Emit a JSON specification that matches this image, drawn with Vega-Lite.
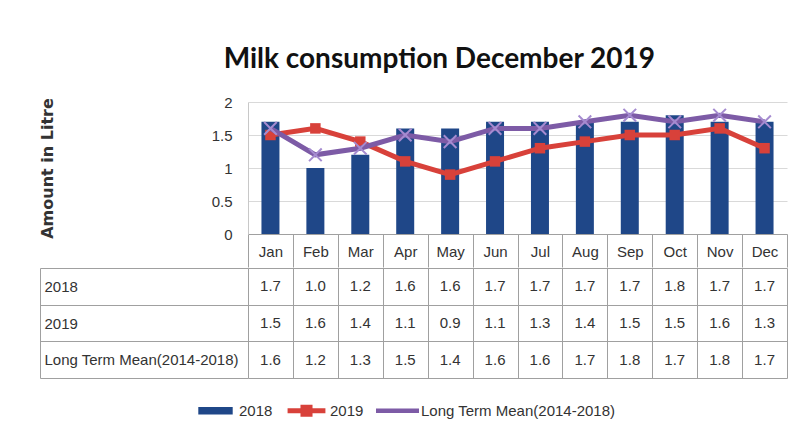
{
  "$schema": "https://vega.github.io/schema/vega-lite/v6.json",
  "background": "white",
  "padding": {"left": 39, "right": 16, "top": 46, "bottom": 2},
  "title": {"text": "Milk consumption December 2019", "font": "Lato", "fontSize": 28, "fontWeight": "bold", "color": "#111111", "anchor": "middle", "dx": 26, "offset": 21},
  "config": {"font": "Liberation Sans", "view": {"stroke": null}},
  "datasets": {
    "milk": [
      {"month": "Jan", "series": "2018", "value": 1.7},
      {"month": "Feb", "series": "2018", "value": 1.0},
      {"month": "Mar", "series": "2018", "value": 1.2},
      {"month": "Apr", "series": "2018", "value": 1.6},
      {"month": "May", "series": "2018", "value": 1.6},
      {"month": "Jun", "series": "2018", "value": 1.7},
      {"month": "Jul", "series": "2018", "value": 1.7},
      {"month": "Aug", "series": "2018", "value": 1.7},
      {"month": "Sep", "series": "2018", "value": 1.7},
      {"month": "Oct", "series": "2018", "value": 1.8},
      {"month": "Nov", "series": "2018", "value": 1.7},
      {"month": "Dec", "series": "2018", "value": 1.7},
      {"month": "Jan", "series": "2019", "value": 1.5},
      {"month": "Feb", "series": "2019", "value": 1.6},
      {"month": "Mar", "series": "2019", "value": 1.4},
      {"month": "Apr", "series": "2019", "value": 1.1},
      {"month": "May", "series": "2019", "value": 0.9},
      {"month": "Jun", "series": "2019", "value": 1.1},
      {"month": "Jul", "series": "2019", "value": 1.3},
      {"month": "Aug", "series": "2019", "value": 1.4},
      {"month": "Sep", "series": "2019", "value": 1.5},
      {"month": "Oct", "series": "2019", "value": 1.5},
      {"month": "Nov", "series": "2019", "value": 1.6},
      {"month": "Dec", "series": "2019", "value": 1.3},
      {"month": "Jan", "series": "Long Term Mean(2014-2018)", "value": 1.6},
      {"month": "Feb", "series": "Long Term Mean(2014-2018)", "value": 1.2},
      {"month": "Mar", "series": "Long Term Mean(2014-2018)", "value": 1.3},
      {"month": "Apr", "series": "Long Term Mean(2014-2018)", "value": 1.5},
      {"month": "May", "series": "Long Term Mean(2014-2018)", "value": 1.4},
      {"month": "Jun", "series": "Long Term Mean(2014-2018)", "value": 1.6},
      {"month": "Jul", "series": "Long Term Mean(2014-2018)", "value": 1.6},
      {"month": "Aug", "series": "Long Term Mean(2014-2018)", "value": 1.7},
      {"month": "Sep", "series": "Long Term Mean(2014-2018)", "value": 1.8},
      {"month": "Oct", "series": "Long Term Mean(2014-2018)", "value": 1.7},
      {"month": "Nov", "series": "Long Term Mean(2014-2018)", "value": 1.8},
      {"month": "Dec", "series": "Long Term Mean(2014-2018)", "value": 1.7}
    ]
  },
  "data": {"name": "milk"},
  "spacing": -12,
  "resolve": {"scale": {"x": "shared"}},
  "vconcat": [
    {
      "width": 539,
      "height": 132,
      "encoding": {
        "x": {"field": "month", "type": "ordinal", "sort": ["Jan","Feb","Mar","Apr","May","Jun","Jul","Aug","Sep","Oct","Nov","Dec"], "scale": {"paddingInner": 0, "paddingOuter": 0},
          "axis": {"title": null, "orient": "bottom", "tickBand": "extent", "tickSize": 33, "tickColor": "#a0a0a0", "domainColor": "#a0a0a0", "labelPadding": -16, "labelBaseline": "middle", "labelAngle": 0, "labelFontSize": 15, "labelColor": "#333333", "grid": false}},
        "y": {"field": "value", "type": "quantitative", "scale": {"domain": [0, 2]},
          "axis": {"title": "Amount in Litre", "titleFont": "DejaVu Sans", "titleFontSize": 16, "titleFontWeight": "bold", "titleColor": "#333333", "titlePadding": 156, "values": [0, 0.5, 1, 1.5, 2], "format": "~g", "ticks": false, "labelPadding": 16, "labelFontSize": 15, "labelColor": "#333333", "domainColor": "#c8c8c8", "gridColor": "#d9d9d9"}}
      },
      "layer": [
        {
          "transform": [{"filter": "datum.series === '2018'"}],
          "mark": {"type": "bar", "size": 18},
          "encoding": {
            "color": {"field": "series", "type": "nominal",
              "scale": {"domain": ["2018", "2019", "Long Term Mean(2014-2018)"], "range": ["#1f4788", "#d8413a", "#7d5ba6"]},
              "legend": {"title": null, "orient": "none", "direction": "horizontal", "legendX": -54, "legendY": 287, "symbolSize": 1849, "labelFontSize": 15, "labelLimit": 0, "labelColor": "#333333", "labelOffset": 2, "columnPadding": 12,
                "encode": {"symbols": {"update": {
                  "shape": {"signal": "datum.label === '2018' ? 'M-0.8,-0.18H0.8V0.18H-0.8Z' : (datum.label === '2019' ? 'M-0.88,-0.12H-0.28V-0.28H0.28V-0.12H0.88V0.12H0.28V0.28H-0.28V0.12H-0.88Z' : 'M-1,-0.11H1V0.11H-1Z')"},
                  "fill": {"scale": "color", "field": "value"},
                  "strokeWidth": {"value": 0},
                  "opacity": {"value": 1}
                }}}}}
          }
        },
        {
          "transform": [{"filter": "datum.series === '2019'"}],
          "mark": {"type": "line", "strokeWidth": 5},
          "encoding": {"color": {"field": "series", "type": "nominal"}}
        },
        {
          "transform": [{"filter": "datum.series === '2019'"}],
          "mark": {"type": "point", "shape": "square", "size": 110, "filled": true, "opacity": 1},
          "encoding": {"color": {"field": "series", "type": "nominal"}}
        },
        {
          "transform": [{"filter": "datum.series === 'Long Term Mean(2014-2018)'"}],
          "mark": {"type": "line", "strokeWidth": 5},
          "encoding": {"color": {"field": "series", "type": "nominal"}}
        },
        {
          "transform": [{"filter": "datum.series === 'Long Term Mean(2014-2018)'"}],
          "mark": {"type": "point", "shape": "M-1,-1L1,1M1,-1L-1,1", "size": 160, "filled": false, "strokeWidth": 2, "color": "#a58bd0", "opacity": 1},
          "encoding": {}
        }
      ]
    },
    {
      "width": 539,
      "height": 110,
      "mark": {"type": "text", "fontSize": 15, "color": "#333333"},
      "encoding": {
        "x": {"field": "month", "type": "ordinal", "sort": ["Jan","Feb","Mar","Apr","May","Jun","Jul","Aug","Sep","Oct","Nov","Dec"],
          "axis": {"title": null, "orient": "bottom", "labels": false, "ticks": false, "domain": false, "grid": true, "tickBand": "extent", "gridColor": "#a0a0a0", "gridOpacity": 1}},
        "y": {"field": "series", "type": "nominal", "sort": ["2018", "2019", "Long Term Mean(2014-2018)"], "scale": {"paddingInner": 0, "paddingOuter": 0},
          "axis": {"title": null, "offset": 208, "tickSize": -208, "tickBand": "extent", "tickColor": "#a0a0a0", "grid": true, "gridColor": "#a0a0a0", "gridOpacity": 1, "domainColor": "#a0a0a0", "labelAlign": "left", "labelPadding": 204, "labelLimit": 0, "labelFontSize": 15, "labelColor": "#333333"}},
        "text": {"field": "value", "type": "quantitative", "format": ".1f"}
      }
    }
  ]
}
